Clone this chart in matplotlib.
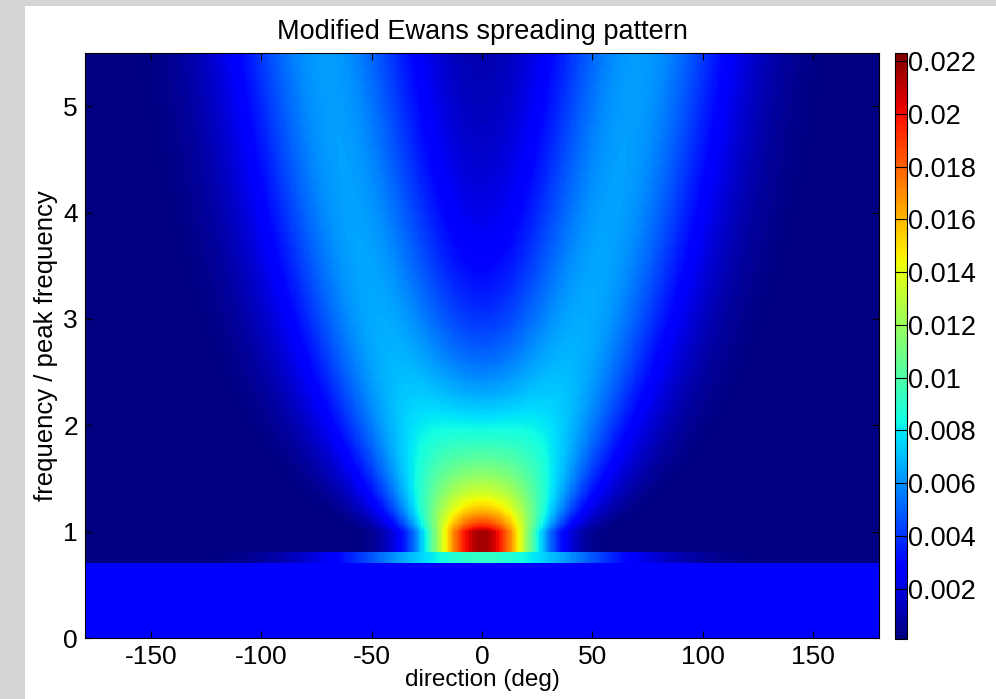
import numpy as np
import matplotlib
matplotlib.use("Agg")
import matplotlib.pyplot as plt
from matplotlib.patches import Rectangle

# ---------------- chart text / ticks ----------------
title_text = "Modified Ewans spreading pattern"
xlabel_text = "direction (deg)"
ylabel_text = "frequency / peak frequency"
x_ticks = [-150, -100, -50, 0, 50, 100, 150]
y_ticks = [0, 1, 2, 3, 4, 5]
cbar_ticks = [0.002, 0.004, 0.006, 0.008, 0.010, 0.012, 0.014, 0.016, 0.018, 0.020, 0.022]
cbar_labels = ["0.002", "0.004", "0.006", "0.008", "0.01", "0.012",
               "0.014", "0.016", "0.018", "0.02", "0.022"]
color_limits = [0.0001, 0.0223]

# ---------------- grids ----------------
directions = np.arange(-180.0, 180.5, 1.0)      # deg
freq_ratio = np.arange(0.0, 5.5051, 0.01)       # f / fp

# ---------------- Ewans (1998) wrapped-normal parameters ----------------
# above the peak: separation theta_d = exp(sep_a + sep_b * (f/fp)^-1)
sep_coef = [5.453, -2.750]
# above the peak: sigma = sig_a + sig_b * (f/fp)^-2
sig_coef = [32.13, -15.39]
# below the peak (as drawn): uniform, then two bands
low_band_edges = [0.71, 0.81, 1.0]
low_band_sigma = [42.8, 16.74]
low_band_sep = [14.93, 14.93]
uniform_level = 1.0 / 360.0


def wrapped_bimodal(theta, sep, sigma):
    out = np.zeros_like(theta)
    for k in (-2, -1, 0, 1, 2):
        for c in (-sep / 2.0, sep / 2.0):
            out += 0.5 * np.exp(-(theta - c - 360.0 * k) ** 2 / (2.0 * sigma ** 2))
    return out / (sigma * np.sqrt(2.0 * np.pi))


D = np.zeros((freq_ratio.size, directions.size))
for i, fr in enumerate(freq_ratio):
    if fr < low_band_edges[0]:
        D[i, :] = uniform_level
    elif fr < low_band_edges[1]:
        D[i, :] = wrapped_bimodal(directions, low_band_sep[0], low_band_sigma[0])
    elif fr < low_band_edges[2]:
        D[i, :] = wrapped_bimodal(directions, low_band_sep[1], low_band_sigma[1])
    else:
        sep = np.exp(sep_coef[0] + sep_coef[1] / fr)
        sig = sig_coef[0] + sig_coef[1] / fr ** 2
        D[i, :] = wrapped_bimodal(directions, sep, sig)

# ---------------- figure ----------------
plt.rcParams["font.family"] = ["Liberation Sans", "DejaVu Sans"]
plt.rcParams["axes.unicode_minus"] = False

W, H = 996, 699
fig = plt.figure(figsize=(W / 100, H / 100), dpi=100, facecolor="#d4d4d4")
fig.patches.append(Rectangle((25 / W, 0), 1 - 25 / W, 1 - 6 / H,
                             transform=fig.transFigure, facecolor="white",
                             edgecolor="none", zorder=-10))

ax = fig.add_axes([85 / W, (H - 638) / H, (879 - 85) / W, (638 - 53) / H])
mesh = ax.pcolormesh(directions, freq_ratio, D, cmap="jet", shading="nearest",
                     vmin=color_limits[0], vmax=color_limits[1], rasterized=True)
ax.set_xlim(-180, 180)
ax.set_ylim(0, 5.5)
ax.set_xticks(x_ticks)
ax.set_yticks(y_ticks)
ax.tick_params(direction="in", top=True, right=True, length=5, width=0.8,
               labelsize=19, pad=5)
for s in ax.spines.values():
    s.set_linewidth(0.8)
ax.set_title(title_text, fontsize=19.5, pad=10)
ax.set_xlabel(xlabel_text, fontsize=17.5, labelpad=0)
ax.set_ylabel(ylabel_text, fontsize=18.5, labelpad=4)

cax = fig.add_axes([895 / W, (H - 639) / H, 12 / W, (639 - 53) / H])
cb = fig.colorbar(mesh, cax=cax, ticks=cbar_ticks)
cb.ax.set_yticklabels(cbar_labels)
cb.ax.tick_params(direction="in", left=True, right=True, length=4, width=0.8,
                  labelsize=19.5, pad=1)
cb.outline.set_linewidth(0.8)

fig.savefig("out.png", dpi=100, facecolor=fig.get_facecolor())
